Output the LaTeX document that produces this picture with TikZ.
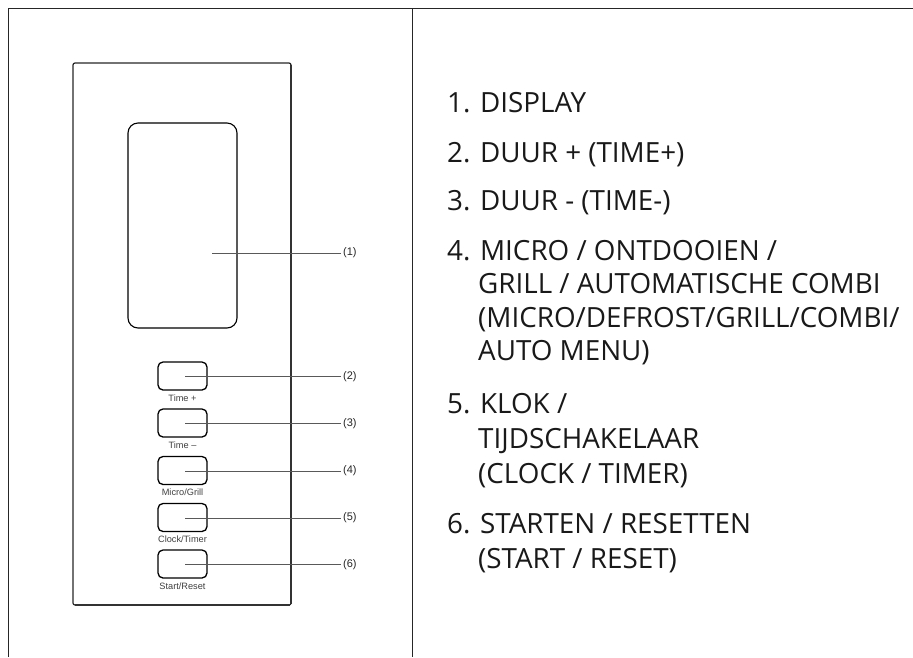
\documentclass[tikz,border=0pt]{standalone}
\usepackage{fontspec}
\setmainfont{Open Sans}
\newfontfamily\arialfont{Liberation Sans}
\begin{document}
\begin{tikzpicture}[x=1pt,y=-1pt,
  frame/.style={line width=0.8pt,draw=black!85},
  panelbox/.style={draw=black!85,line width=1.2pt,rounded corners=2pt,inner sep=0pt,outer sep=0pt},
  paneledge/.style={draw=black!80,line width=1.8pt},
  dispbox/.style={draw=black,line width=1.1pt,rounded corners=10pt,inner sep=0pt,minimum width=109pt,minimum height=205pt},
  btn/.style={draw=black,line width=1.3pt,rounded corners=5pt,inner sep=0pt,minimum width=49pt,minimum height=28pt},
  btnlab/.style={font=\arialfont\fontsize{9.2}{10}\selectfont,text=black!75,inner sep=0pt},
  callout/.style={font=\arialfont\fontsize{11}{12}\selectfont,text=black!85,anchor=west,inner sep=2pt},
  leader/.style={draw=black!65,line width=0.8pt},
  item/.style={font=\fontsize{27.8}{30}\selectfont,text=black!90,anchor=base west,inner sep=0pt}]
\useasboundingbox (0,0) rectangle (913,657);
% frame
\coordinate (fbl) at (8,657);
\coordinate (ftl) at (8,8);
\coordinate (ftr) at (913,8);
\coordinate (dt) at (412,8);
\coordinate (db) at (412,657);
\draw[frame] (fbl) -- (ftl) -- (ftr);
\draw[frame] (dt) -- (db);
% panel
\node[panelbox,minimum width=218pt,minimum height=542pt] (panel) at (182,334) {};
\draw[paneledge] ([yshift=-2pt]panel.north east) -- ([yshift=1.5pt]panel.south east);
\draw[paneledge] ([xshift=1.5pt]panel.south west) -- ([xshift=-1.5pt]panel.south east);
\node[dispbox] (disp) at (182.5,225.5) {};
% buttons
\foreach \i/\y/\t in {2/376/{Time +},3/423/{Time –},4/470.5/{Micro/Grill},5/517.5/{Clock/Timer},6/564/{Start/Reset}}{
  \node[btn] (b\i) at (182.5,\y) {};
  \node[btnlab] (bl\i) at (182.5,\y+22) {\t};
  \coordinate (c\i) at (185,\y+0.5);
  \node[callout] (l\i) at (341,\y+0.5) {(\i)};
  \draw[leader] (c\i) -- (l\i.west);
}
\coordinate (c1) at (212,253);
\node[callout] (l1) at (341,253) {(1)};
\draw[leader] (c1) -- (l1.west);
% list
\node[item] (n1) at (447,112) {1. DISPLAY};
\node[item] (n2) at (447,162) {2. DUUR + (TIME+)};
\node[item] (n3) at (447,210) {3. DUUR - (TIME-)};
\node[item] (n4) at (447,260) {4. MICRO / ONTDOOIEN /};
\node[item] (n4b) at (478,293) {GRILL / AUTOMATISCHE COMBI};
\node[item] (n4c) at (478,327) {(MICRO/DEFROST/GRILL/COMBI/};
\node[item] (n4d) at (478,360) {AUTO MENU)};
\node[item] (n5) at (447,413) {5. KLOK /};
\node[item] (n5b) at (478,448) {TIJDSCHAKELAAR};
\node[item] (n5c) at (478,483) {(CLOCK / TIMER)};
\node[item] (n6) at (447,533) {6. STARTEN / RESETTEN};
\node[item] (n6b) at (478,568) {(START / RESET)};
\end{tikzpicture}
\end{document}
